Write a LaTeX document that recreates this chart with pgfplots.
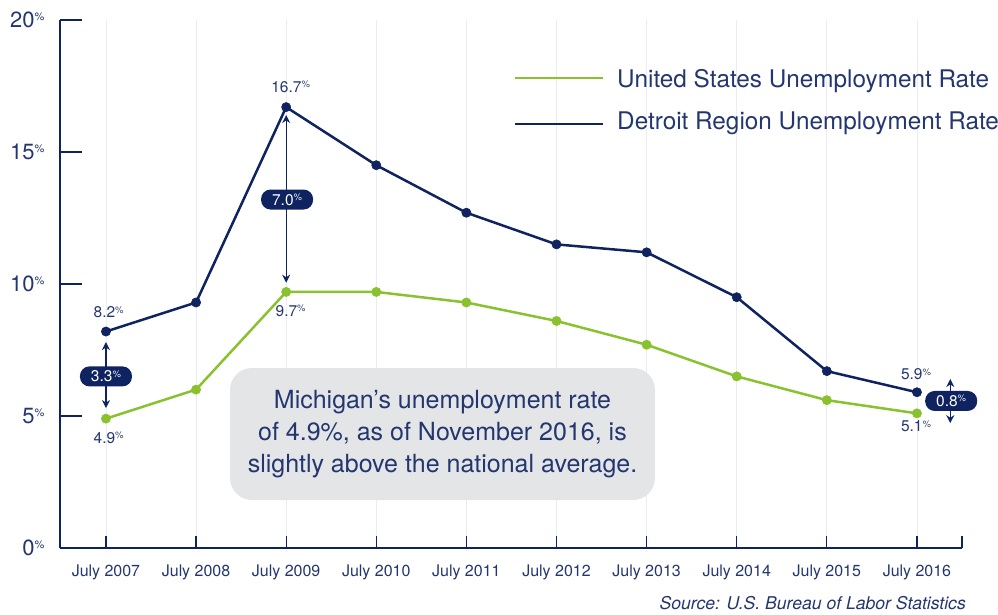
\documentclass[border=0pt]{standalone}
\usepackage{fontspec}
\setmainfont{TeX Gyre Heros}
\usepackage{pgfplots}
\pgfplotsset{compat=1.18}
\usetikzlibrary{arrows.meta}
\definecolor{navy}{RGB}{14,35,96}
\definecolor{txt}{RGB}{36,54,112}
\definecolor{grn}{RGB}{138,193,47}
\definecolor{boxg}{RGB}{228,229,231}
\definecolor{gridg}{RGB}{236,237,240}
% small raised percent sign
\newcommand{\pct}[2]{\raisebox{#1}{\fontsize{#2}{#2}\selectfont\%}}
\newcommand{\tl}[1]{#1\pct{7pt}{11}}
\newcommand{\dl}[1]{#1\pct{4.5pt}{9.5}}
\pgfplotstableread{
x us det
0 4.9 8.2
1 6.0 9.3
2 9.7 16.7
3 9.7 14.5
4 9.3 12.7
5 8.6 11.5
6 7.7 11.2
7 6.5 9.5
8 5.6 6.7
9 5.1 5.9
}\rates
\begin{document}
\begin{tikzpicture}[x=1pt,y=1pt]
\useasboundingbox (0,0) rectangle (998,614);
\begin{axis}[
 at={(60pt,66pt)}, anchor=south west,
 scale only axis, width=902pt, height=528pt,
 xmin=-0.51, xmax=9.5, ymin=0, ymax=20,
 axis x line=bottom, axis y line=left,
 axis line style={navy, line width=1.3pt, -},
 tick align=inside,
 xtick={0,...,9},
 xticklabels={July 2007,July 2008,July 2009,July 2010,July 2011,July 2012,July 2013,July 2014,July 2015,July 2016},
 ytick={0,5,10,15,20},
 yticklabels={\tl{0},\tl{5},\tl{10},\tl{15},\tl{20}},
 x tick style={navy, line width=1.2pt, /pgfplots/major tick length=12pt},
 y tick style={navy, line width=1.2pt, /pgfplots/major tick length=22pt},
 xmajorgrids, grid style={gridg, line width=0.8pt},
 extra x ticks={9.5}, extra x tick labels={}, extra x tick style={grid=none},
 xticklabel style={font=\fontsize{16}{16}\selectfont, text=txt, yshift=-13pt},
 yticklabel style={font=\fontsize{22}{22}\selectfont, text=txt, xshift=-12pt},
 clip=false,
]
\addplot[grn, line width=2.5pt, mark=*, mark size=4.6pt, mark options={line width=0.6pt, fill=grn}] table[x=x, y=us] {\rates};
\addplot[navy, line width=2.5pt, mark=*, mark size=4.6pt, mark options={line width=0.6pt, fill=navy}] table[x=x, y=det] {\rates};
% data labels
\tikzset{dlab/.style={text=txt, font=\fontsize{15.5}{15.5}\selectfont, inner sep=0pt}}
\node[dlab] at (axis cs:0.03,8.93) {\dl{8.2}};
\node[dlab] at (axis cs:0.03,4.17) {\dl{4.9}};
\node[dlab] at (axis cs:2.05,17.48) {\dl{16.7}};
\node[dlab] at (axis cs:2.05,8.98) {\dl{9.7}};
\node[dlab] at (axis cs:8.99,6.59) {\dl{5.9}};
\node[dlab] at (axis cs:8.99,4.62) {\dl{5.1}};
% difference arrows
\tikzset{darr/.style={navy, line width=1.3pt, {Stealth[length=8pt,width=8pt]}-{Stealth[length=8pt,width=8pt]}},
 pill/.style={fill=navy, text=white, rounded corners=9.5pt, minimum width=52pt, minimum height=20pt, inner sep=0pt, font=\fontsize{15.5}{15.5}\selectfont}}
\draw[darr] (axis cs:0,7.8) -- (axis cs:0,5.3);
\node[pill] at (axis cs:0,6.5) {\dl{3.3}};
\draw[darr] (axis cs:2,16.4) -- (axis cs:2,10.05);
\node[pill] at (axis cs:2.01,13.2) {\dl{7.0}};
\draw[darr] (axis cs:9.37,6.4) -- (axis cs:9.37,4.73);
\node[pill] at (axis cs:9.38,5.57) {\dl{0.8}};
\end{axis}
% callout
\fill[boxg, rounded corners=22pt] (230,246) rectangle (655,114);
\node[text=txt, align=center, font=\fontsize{25}{32}\selectfont] at (442.5,180) {Michigan’s unemployment rate\\ of 4.9\%, as of November 2016, is\\ slightly above the national average.};
% legend
\draw[grn, line width=2.5pt] (515,536) -- (603,536);
\node[anchor=base west, inner sep=0pt, text=txt, font=\fontsize{24.3}{24.3}\selectfont] at (617,526) {United States Unemployment Rate};
\draw[navy, line width=2.5pt] (515,490) -- (603,490);
\node[anchor=base west, inner sep=0pt, text=txt, font=\fontsize{24.3}{24.3}\selectfont] at (617,484) {Detroit Region Unemployment Rate};
% source
\node[anchor=base east, inner sep=0pt, text=txt, font=\fontsize{17.6}{17.6}\selectfont\itshape] at (966,5) {Source: U.S. Bureau of Labor Statistics};
\end{tikzpicture}
\end{document}
